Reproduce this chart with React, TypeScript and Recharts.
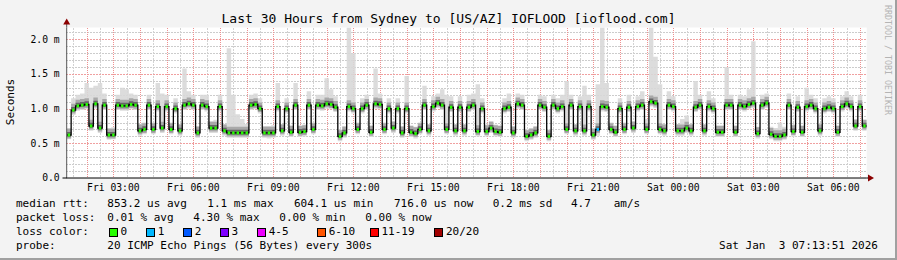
import { ComposedChart, Area, Line, Scatter, XAxis, YAxis } from "recharts";

// read at 10-minute resolution (180 steps) over 30 hours
// x value = hours since the left edge of the plot (Fri 01:15)
const median = [
  0.62, 0.98, 1.04, 1.05, 1.06, 0.75, 1.07, 0.72, 1.05, 0.62, 0.62, 1.05, 1.04, 1.04, 1.06, 1.05, 0.68, 0.70,
  1.05, 0.70, 1.03, 0.72, 1.03, 0.70, 1.00, 0.68, 1.05, 1.07, 1.05, 0.65, 1.05, 1.03, 0.72, 0.72, 1.03, 0.68,
  0.65, 0.65, 0.65, 0.65, 0.65, 1.05, 1.06, 1.00, 0.65, 0.65, 0.65, 1.03, 0.68, 1.00, 0.66, 1.05, 0.66, 0.67,
  1.05, 0.70, 1.05, 1.04, 1.07, 1.06, 1.02, 0.60, 0.65, 1.03, 1.00, 0.70, 1.00, 1.05, 0.66, 1.07, 1.06, 0.70,
  1.00, 0.72, 1.00, 0.65, 1.00, 0.66, 0.64, 0.70, 1.05, 0.68, 1.03, 1.08, 1.05, 0.70, 1.02, 0.68, 1.02, 0.68,
  1.02, 1.05, 0.67, 1.00, 0.67, 0.72, 0.67, 0.66, 1.00, 1.02, 0.65, 1.07, 1.05, 0.60, 0.62, 0.65, 1.05, 1.02,
  0.60, 1.05, 1.00, 1.03, 0.70, 1.05, 0.68, 1.03, 0.68, 1.03, 0.62, 0.70, 1.03, 1.02, 0.70, 0.66, 1.00, 0.70,
  1.02, 0.72, 1.03, 1.05, 0.70, 1.10, 1.08, 0.70, 0.68, 1.05, 1.03, 0.68, 0.68, 0.72, 0.68, 1.02, 1.05, 0.68,
  1.03, 1.00, 0.66, 0.66, 1.05, 1.05, 0.66, 1.05, 1.03, 1.06, 1.08, 0.64, 1.05, 1.08, 0.63, 0.60, 0.60, 0.62,
  1.05, 0.67, 1.02, 0.66, 1.03, 1.05, 1.00, 0.68, 1.00, 1.02, 1.00, 0.66, 1.03, 1.07, 1.03, 0.75, 1.03, 0.75,
];

const maxPing = [
  0.72, 1.15, 1.20, 1.22, 1.37, 1.30, 1.33, 1.37, 1.22, 0.72, 0.73, 1.20, 1.30, 1.28, 1.22, 1.20, 0.78, 0.80,
  1.20, 0.80, 1.37, 1.22, 1.20, 0.80, 1.15, 0.78, 1.58, 1.25, 1.20, 0.75, 1.20, 1.20, 0.82, 0.84, 1.20, 0.78,
  1.87, 1.20, 0.92, 0.85, 0.78, 1.20, 1.22, 1.15, 0.75, 0.75, 0.76, 1.37, 0.78, 1.15, 0.76, 1.37, 0.76, 0.77,
  1.25, 0.80, 1.20, 1.20, 1.44, 1.28, 1.18, 0.70, 0.75, 2.17, 1.80, 0.80, 1.15, 1.20, 0.76, 1.58, 1.22, 0.80,
  1.15, 0.82, 1.15, 0.75, 1.47, 0.76, 0.74, 0.80, 1.33, 0.78, 1.18, 1.22, 1.28, 1.20, 1.18, 0.78, 1.18, 0.78,
  1.20, 1.22, 1.35, 1.15, 0.77, 0.82, 0.77, 0.76, 1.15, 1.22, 0.75, 1.22, 1.20, 0.70, 0.72, 0.75, 1.20, 1.18,
  0.70, 1.20, 1.15, 1.20, 1.40, 1.20, 0.78, 1.18, 1.33, 1.20, 0.72, 1.35, 2.17, 1.37, 0.80, 0.76, 1.15, 0.80,
  1.20, 0.82, 1.18, 1.25, 0.85, 2.17, 1.75, 1.35, 0.78, 1.25, 1.18, 0.78, 0.85, 0.90, 0.78, 1.40, 1.20, 0.78,
  1.25, 1.15, 0.76, 0.76, 1.60, 1.20, 0.76, 1.20, 1.18, 1.28, 1.97, 0.74, 1.20, 1.22, 0.74, 0.72, 0.80, 0.74,
  1.22, 0.77, 1.18, 0.76, 1.30, 1.20, 1.15, 0.78, 1.15, 1.18, 1.15, 0.76, 1.18, 1.25, 1.18, 0.85, 1.20, 0.84,
];

const minPing = [
  0.56, 0.91, 0.97, 0.98, 0.99, 0.68, 1.00, 0.65, 0.98, 0.55, 0.56, 0.98, 0.97, 0.97, 0.99, 0.98, 0.61, 0.63,
  0.98, 0.63, 0.96, 0.65, 0.96, 0.63, 0.93, 0.61, 0.98, 1.00, 0.98, 0.58, 0.98, 0.96, 0.65, 0.65, 0.96, 0.61,
  0.58, 0.58, 0.58, 0.58, 0.58, 0.98, 0.99, 0.93, 0.58, 0.57, 0.58, 0.96, 0.61, 0.93, 0.59, 0.98, 0.59, 0.60,
  0.98, 0.63, 0.98, 0.97, 1.00, 0.99, 0.95, 0.53, 0.58, 0.96, 0.93, 0.63, 0.93, 0.98, 0.59, 1.00, 0.99, 0.63,
  0.93, 0.65, 0.93, 0.58, 0.93, 0.59, 0.57, 0.63, 0.98, 0.61, 0.96, 1.01, 0.98, 0.63, 0.95, 0.61, 0.95, 0.61,
  0.95, 0.98, 0.60, 0.93, 0.60, 0.65, 0.60, 0.59, 0.93, 0.95, 0.58, 1.00, 0.98, 0.53, 0.55, 0.58, 0.98, 0.95,
  0.53, 0.98, 0.93, 0.96, 0.63, 0.98, 0.61, 0.96, 0.61, 0.96, 0.55, 0.61, 0.96, 0.95, 0.63, 0.59, 0.93, 0.63,
  0.95, 0.65, 0.96, 0.98, 0.63, 1.03, 1.01, 0.63, 0.61, 0.98, 0.96, 0.61, 0.61, 0.65, 0.61, 0.95, 0.98, 0.61,
  0.96, 0.93, 0.59, 0.59, 0.98, 0.98, 0.59, 0.98, 0.96, 0.99, 1.01, 0.57, 0.98, 1.01, 0.56, 0.53, 0.53, 0.55,
  0.98, 0.60, 0.95, 0.59, 0.96, 0.98, 0.93, 0.61, 0.93, 0.95, 0.93, 0.59, 0.96, 1.00, 0.96, 0.68, 0.96, 0.68,
];

// steps with packet loss (index -> loss colour); all others had 0 loss
const lossAt: Record<number, string> = { 119: "#00b8ff" };

const xTicks = [1.75, 4.75, 7.75, 10.75, 13.75, 16.75, 19.75, 22.75, 25.75, 28.75];
const xTickLabels = ["Fri 03:00", "Fri 06:00", "Fri 09:00", "Fri 12:00", "Fri 15:00", "Fri 18:00", "Fri 21:00", "Sat 00:00", "Sat 03:00", "Sat 06:00"];
const yTicks = [0, 0.5, 1, 1.5, 2];
const yTickLabels = ["0.0", "0.5 m", "1.0 m", "1.5 m", "2.0 m"];

const lossLegend = [
  { label: "0", color: "#26ff00", x: 108.5 },
  { label: "1", color: "#00b8ff", x: 145.7 },
  { label: "2", color: "#0059ff", x: 182.7 },
  { label: "3", color: "#7e00ff", x: 219.5 },
  { label: "4-5", color: "#ee00ff", x: 256.7 },
  { label: "6-10", color: "#ff5500", x: 316.7 },
  { label: "11-19", color: "#ff0000", x: 369.5 },
  { label: "20/20", color: "#a10000", x: 434 },
];

const STEP = 1 / 6;
const rows = median.map((m, i) => ({
  t: i * STEP,
  med: m,
  smoke: [minPing[i], maxPing[i]],
  mid: [m - 0.05, m + 0.09],
  core: [m - 0.025, m + 0.045],
}));
rows.push({ ...rows[rows.length - 1], t: 30 });

const dots = median.map((m, i) => ({ t: i * STEP + STEP / 2, v: m, c: lossAt[i] ?? "#26ff00" }));

// plot box (px) and domains
const PL = 66.7, PR = 866.7, PT = 27.5, PB = 178;
const XMAX = 30, YMAX = 2.17;
const px = (t: number) => Math.round(PL + (t / XMAX) * (PR - PL)) + 0.5;
const py = (v: number) => Math.round(PB - (v / YMAX) * (PB - PT)) + 0.5;

const hourLines: number[] = [];
const halfLines: number[] = [];
for (let h = 0.25; h < 30; h += 1) halfLines.push(h);
for (let h = 0.75; h < 30; h += 1) hourLines.push(h);
const minorY: number[] = [];
for (let k = 1; k <= 21; k++) if (k % 5 !== 0) minorY.push(k / 10);
const majorY = [0.5, 1, 1.5, 2];

const mono = "'DejaVu Sans Mono', monospace";
const txt = { position: "absolute" as const, fontFamily: mono, fontSize: 11, lineHeight: "14px", whiteSpace: "pre" as const, color: "#000" };

function T({ x, y, children, style }: { x: number; y: number; children: string; style?: object }) {
  return <div style={{ ...txt, left: x, top: y - 7, ...style }}>{children}</div>;
}

export default function App() {
  return (
    <div style={{ position: "absolute", left: 0, top: 0, width: 897, height: 260, background: "#f3f3f3", overflow: "hidden", boxSizing: "border-box", borderRight: "2px solid #a0a0a0", borderBottom: "2px solid #a0a0a0" }}>
      <svg width={897} height={260} style={{ position: "absolute", left: 0, top: 0 }}>
        <rect x={PL} y={PT} width={PR - PL} height={PB - PT} fill="#fff" />
        <g strokeWidth={1}>
          {minorY.map((v) => <line key={"y" + v} x1={66} x2={867} y1={py(v)} y2={py(v)} stroke="#cccccc" strokeDasharray="2 1" />)}
          {halfLines.map((v) => <line key={"h" + v} x1={px(v)} x2={px(v)} y1={28} y2={178} stroke="#d2d2d2" strokeDasharray="2 1" />)}
          {majorY.map((v) => <line key={"Y" + v} x1={66} x2={867} y1={py(v)} y2={py(v)} stroke="#f0a0a0" strokeDasharray="2 1" />)}
          {hourLines.map((v) => <line key={"H" + v} x1={px(v)} x2={px(v)} y1={28} y2={178} stroke="#ee9090" strokeDasharray="1 1" />)}
        </g>
      </svg>
      <div style={{ position: "absolute", left: 0, top: 0 }}>
        <ComposedChart width={897} height={260} data={rows} margin={{ top: PT, right: 897 - PR, bottom: 62, left: PL - 60 }}>
          <XAxis type="number" dataKey="t" domain={[0, XMAX]} ticks={xTicks} allowDataOverflow
            tickFormatter={(v) => xTickLabels[xTicks.indexOf(v)] ?? ""} height={20}
            tickLine={false} tickSize={0} tickMargin={6} axisLine={{ stroke: "#000", strokeWidth: 1 }}
            tick={{ fontSize: 9.7, fontFamily: mono, fill: "#000" }} />
          <YAxis type="number" domain={[0, YMAX]} ticks={yTicks} allowDataOverflow width={60}
            tickFormatter={(v) => yTickLabels[yTicks.indexOf(v)] ?? ""}
            tickLine={false} tickSize={0} tickMargin={7} axisLine={{ stroke: "#555", strokeWidth: 1 }}
            tick={{ fontSize: 9.7, fontFamily: mono, fill: "#000" }} />
          <Area type="stepAfter" dataKey="smoke" stroke="none" fill="#d8d8d8" fillOpacity={0.9} isAnimationActive={false} />
          <Area type="stepAfter" dataKey="mid" stroke="none" fill="#a9a9a9" fillOpacity={1} isAnimationActive={false} />
          <Area type="stepAfter" dataKey="core" stroke="none" fill="#666" fillOpacity={1} isAnimationActive={false} />
          <Line type="stepAfter" dataKey="med" stroke="#000" strokeWidth={1.3} dot={false} isAnimationActive={false} />
          <Scatter data={dots} dataKey="v" isAnimationActive={false}
            shape={(p: any) => <rect x={p.cx - 1.2} y={p.cy - 1.5} width={2.4} height={3} fill={p.payload.c} />} />
        </ComposedChart>
      </div>
      <svg width={897} height={260} style={{ position: "absolute", left: 0, top: 0 }}>
        <line x1={PL} y1={PT} x2={PL} y2={22} stroke="#555" />
        <line x1={62.5} y1={PB} x2={67} y2={PB} stroke="#000" />
        <line x1={PR} y1={PB} x2={870} y2={PB} stroke="#000" />
        <polygon points="63.2,24.5 66.7,18.5 70.2,24.5" fill="#8b0000" />
        <polygon points="868,174.5 874,178 868,181.5" fill="#8b0000" />
      </svg>
      <div style={{ ...txt, fontSize: 13, lineHeight: "16px", left: 0, width: 897, textAlign: "center", top: 11 }}>
        Last 30 Hours from Sydney to [US/AZ] IOFLOOD [ioflood.com]
      </div>
      <div style={{ ...txt, left: 11 - 30, top: 102 - 7, width: 60, textAlign: "center", transform: "rotate(-90deg)" }}>Seconds</div>
      <div style={{ ...txt, fontSize: 8.3, lineHeight: "10px", color: "#b4b4b4", left: 883, top: 5, writingMode: "vertical-rl" }}>RRDTOOL / TOBI OETIKER</div>

      <T x={16} y={204}>median rtt:</T>
      <T x={107.3} y={204}>853.2 us avg</T>
      <T x={207.3} y={204}>1.1 ms max</T>
      <T x={294} y={204}>604.1 us min</T>
      <T x={394} y={204}>716.0 us now</T>
      <T x={492.7} y={204}>0.2 ms sd</T>
      <T x={571} y={204}>4.7</T>
      <T x={613.7} y={204}>am/s</T>

      <T x={16} y={218.3}>packet loss:</T>
      <T x={107.3} y={218.3}>0.01 % avg</T>
      <T x={193.3} y={218.3}>4.30 % max</T>
      <T x={279.3} y={218.3}>0.00 % min</T>
      <T x={365.3} y={218.3}>0.00 % now</T>

      <T x={16} y={232.3}>loss color:</T>
      {lossLegend.map((l) => (
        <div key={l.label}>
          <div style={{ position: "absolute", left: l.x, top: 228.3, width: 7, height: 7, background: l.color, border: "1px solid #000", boxSizing: "content-box" }} />
          <T x={l.x + 12} y={232.3}>{l.label}</T>
        </div>
      ))}

      <T x={16} y={246.3}>probe:</T>
      <T x={107.3} y={246.3}>20 ICMP Echo Pings (56 Bytes) every 300s</T>
      <div style={{ ...txt, right: 17, top: 246.3 - 7 }}>Sat Jan  3 07:13:51 2026</div>
    </div>
  );
}
